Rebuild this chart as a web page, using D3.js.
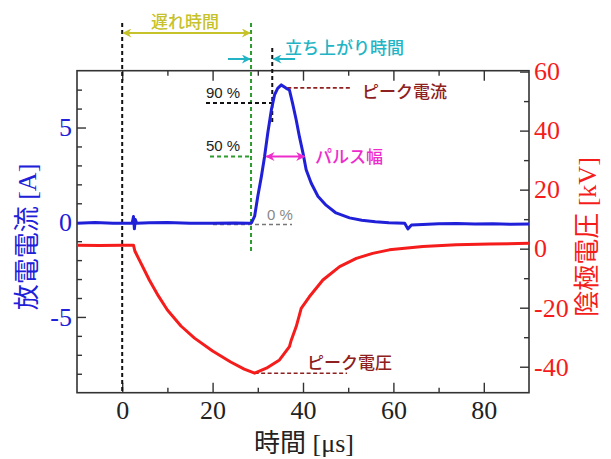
<!DOCTYPE html>
<html>
<head>
<meta charset="utf-8">
<script src="https://cdn.jsdelivr.net/npm/d3@7"></script>
<style>
body { margin: 0; background: #fff; }
svg { display: block; }
</style>
</head>
<body>
<svg id="chart" width="611" height="459"></svg>
<script>
// values
var timeI = [-10, -6, -2, 0, 2.2, 2.5, 2.7, 2.9, 3.2, 6, 10, 15, 20, 25, 28, 28.6, 29.3, 30.0, 30.8, 31.5, 32.2, 33.0, 33.7, 34.4, 35.2, 35.8, 36.3, 37.0, 37.7, 38.5, 39.2, 40.0, 40.7, 41.8, 43.3, 45.1, 47.3, 50.3, 53, 56, 59, 62.5, 63.2, 64, 66.5, 70, 74, 78, 82, 86, 90];
var currentA = [-0.05, -0.02, -0.06, -0.05, -0.05, 0.3, -0.35, 0.15, -0.05, -0.03, -0.02, -0.06, -0.05, -0.04, -0.06, -0.03, 0.32, 1.37, 2.42, 3.47, 4.7, 5.93, 6.72, 7.07, 7.25, 7.15, 7.07, 6.98, 6.28, 5.4, 4.53, 3.65, 2.77, 2.07, 1.37, 0.9, 0.49, 0.23, 0.1, 0.02, -0.03, -0.05, -0.35, -0.15, -0.12, -0.08, -0.07, -0.1, -0.08, -0.11, -0.1];

var timeV = [-10, -5, 0, 2.5, 2.8, 4, 6, 8, 10, 13, 16, 20, 24, 27, 29.3, 31.9, 34.8, 37.0, 37.4, 38.5, 39.2, 39.6, 41.4, 44.4, 48.1, 51.8, 55.4, 59.1, 66.5, 73.9, 81.3, 90];
var voltageKV = [1.2, 1.1, 1.2, 1.2, -0.8, -4.5, -10.6, -16, -20.8, -26.2, -30.3, -34.7, -38.4, -40.8, -42.2, -40.5, -37.7, -33.2, -31.0, -26.4, -22.5, -20.2, -16.3, -10.6, -6.1, -3.3, -1.6, -0.4, 0.7, 1.3, 1.6, 1.8];

var xMajor = [0, 20, 40, 60, 80];
var xMinor = [10, 30, 50, 70];
var leftMajor = [-5, 0, 5];
var leftMinor = [-8, -7, -6, -4, -3, -2, -1, 1, 2, 3, 4, 6, 7];
var rightMajor = [-40, -20, 0, 20, 40, 60];
var rightMinor = [-30, -10, 10, 30, 50];

// annotation readings (time in us, current in A, voltage in kV)
var delayTime = [0, 28.5];
var riseTime = [28.5, 33.2];
var pulseWidth = [31.9, 40.3];
var level90 = 6.3, level50 = 3.47, level0 = -0.12;
var peakCurrent = [35.2, 7.25];
var peakVoltage = [29.3, -42.2];

var svg = d3.select("#chart");
var pLeft = 77, pRight = 529, pTop = 70.7, pBottom = 392.7;

var x = d3.scaleLinear().domain([-10, 90]).range([pLeft, pRight]);
var yL = d3.scaleLinear().domain([-9, 8]).range([pBottom, pTop]);
var yR = d3.scaleLinear().domain([-48.8, 60.3]).range([pBottom, pTop]);

var blue = "#2020d8", red = "#f51c1c";
var serif = "'Liberation Serif', 'Times New Roman', 'Noto Sans CJK JP', serif";
var jp = "'Noto Sans CJK JP', sans-serif";

// arrow heads
var defs = svg.append("defs");
function marker(id, color) {
	defs.append("marker")
		.attr("id", id)
		.attr("viewBox", "0 0 10 10")
		.attr("refX", 9).attr("refY", 5)
		.attr("markerUnits", "userSpaceOnUse")
		.attr("markerWidth", 10).attr("markerHeight", 9)
		.attr("orient", "auto-start-reverse")
		.append("path")
		.attr("d", "M0,0 L10,5 L0,10 L3,5 z")
		.attr("fill", color);
}
marker("arY", "#c6c22a");
marker("arC", "#22b4c4");
marker("arM", "#ee2ccc");

// axes: ticks point inward
function ax(gen, pos, vals, size, fmt, color, pad) {
	var g = svg.append("g")
		.attr("transform", pos)
		.call(gen.tickValues(vals).tickSize(size).tickPadding(pad).tickFormat(fmt));
	g.select(".domain").remove();
	g.selectAll("line").attr("stroke", "#333").attr("stroke-width", 1.4);
	g.selectAll("text").attr("fill", color).style("font-family", serif).style("font-size", "26px");
	return g;
}
var none = function() { return ""; };
var plain = function(d) { return String(d); };  // hyphen minus, like the original
ax(d3.axisBottom(x), "translate(0," + pBottom + ")", xMinor, -5, none, "#222", 8);
ax(d3.axisBottom(x), "translate(0," + pBottom + ")", xMajor, -10, plain, "#222", 8);
ax(d3.axisTop(x), "translate(0," + pTop + ")", xMinor, -5, none, "#222", 8);
ax(d3.axisTop(x), "translate(0," + pTop + ")", xMajor, -10, none, "#222", 8);
ax(d3.axisLeft(yL), "translate(" + pLeft + ",0)", leftMinor, -5, none, blue, 5);
ax(d3.axisLeft(yL), "translate(" + pLeft + ",0)", leftMajor, -9, plain, blue, 5);
ax(d3.axisRight(yR), "translate(" + pRight + ",0)", rightMinor, -5, none, red, 5);
ax(d3.axisRight(yR), "translate(" + pRight + ",0)", rightMajor, -9, plain, red, 5);

svg.append("rect")
	.attr("x", pLeft).attr("y", pTop)
	.attr("width", pRight - pLeft).attr("height", pBottom - pTop)
	.attr("fill", "none").attr("stroke", "#333").attr("stroke-width", 1.6);

// dashed guide lines
function dash(x1, y1, x2, y2, color, w, da) {
	svg.append("line")
		.attr("x1", x1).attr("y1", y1).attr("x2", x2).attr("y2", y2)
		.attr("stroke", color).attr("stroke-width", w)
		.attr("stroke-dasharray", da);
}
dash(x(delayTime[0]), 23, x(delayTime[0]), pBottom, "#111", 2, "4 3");
dash(x(delayTime[1]), 23, x(delayTime[1]), 252, "#2e9b2e", 2, "4 3");
dash(x(riseTime[1]), 48, x(riseTime[1]), 124, "#111", 2, "4 3");
dash(206, yL(level90), x(riseTime[1]), yL(level90), "#111", 2, "4 3");
dash(210, yL(level50), x(delayTime[1]), yL(level50), "#2e9b2e", 2, "4 3");
dash(213, yL(level0), 292, yL(level0), "#777", 1.6, "4 3");
dash(x(peakCurrent[0]) + 6, yL(peakCurrent[1]) + 3, 350, yL(peakCurrent[1]) + 3, "#8e2020", 1.6, "4 2.5");
dash(x(peakVoltage[0]), yR(peakVoltage[1]), 347, yR(peakVoltage[1]), "#8e2020", 1.6, "4 2.5");

// traces
var lineI = d3.line().x(function(d) { return x(d[0]); }).y(function(d) { return yL(d[1]); });
var lineV = d3.line().x(function(d) { return x(d[0]); }).y(function(d) { return yR(d[1]); });

svg.append("path")
	.datum(d3.zip(timeV, voltageKV))
	.attr("d", lineV)
	.attr("fill", "none").attr("stroke", red)
	.attr("stroke-width", 3).attr("stroke-linejoin", "round");
svg.append("path")
	.datum(d3.zip(timeI, currentA))
	.attr("d", lineI)
	.attr("fill", "none").attr("stroke", blue)
	.attr("stroke-width", 3).attr("stroke-linejoin", "round");

// arrows
function arrow(x1, y1, x2, y2, color, id, both) {
	var l = svg.append("line")
		.attr("x1", x1).attr("y1", y1).attr("x2", x2).attr("y2", y2)
		.attr("stroke", color).attr("stroke-width", 2)
		.attr("marker-end", "url(#" + id + ")");
	if (both) l.attr("marker-start", "url(#" + id + ")");
}
arrow(x(delayTime[0]) + 1, 33, x(delayTime[1]) - 1, 33, "#c6c22a", "arY", true);
arrow(228, 59, x(riseTime[0]) - 1, 59, "#22b4c4", "arC", false);
arrow(295, 59, x(riseTime[1]) + 1, 59, "#22b4c4", "arC", false);
arrow(x(pulseWidth[0]), yL(level50), x(pulseWidth[1]), yL(level50), "#ee2ccc", "arM", true);

// labels
function label(txt, px, py, color, size, family, anchor, weight) {
	svg.append("text")
		.attr("x", px).attr("y", py)
		.attr("fill", color)
		.attr("text-anchor", anchor || "start")
		.attr("dominant-baseline", "central")
		.style("font-family", family)
		.style("font-size", size + "px")
		.style("font-weight", weight || 400)
		.text(txt);
}
label("遅れ時間", 185, 20, "#c6c22a", 17, jp, "middle", 500);
label("立ち上がり時間", 285, 46, "#22b4c4", 17, jp, "start", 500);
label("ピーク電流", 362, 90, "#8e2020", 17, jp, "start", 500);
label("パルス幅", 315, 155, "#ee2ccc", 17, jp, "start", 500);
label("ピーク電圧", 307, 361, "#8e2020", 17, jp, "start", 500);
label("90 %", 206, 92, "#222", 15, "'Liberation Sans', Arial, sans-serif");
label("50 %", 206, 145, "#222", 15, "'Liberation Sans', Arial, sans-serif");
label("0 %", 267, 214, "#888", 15, "'Liberation Sans', Arial, sans-serif");

// axis titles
svg.append("text")
	.attr("transform", "translate(27,237) rotate(-90)")
	.attr("text-anchor", "middle").attr("dominant-baseline", "central")
	.attr("fill", blue)
	.style("font-family", serif).style("font-size", "26px")
	.text("放電電流 [A]");
svg.append("text")
	.attr("transform", "translate(587,237) rotate(-90)")
	.attr("text-anchor", "middle").attr("dominant-baseline", "central")
	.attr("fill", red)
	.style("font-family", serif).style("font-size", "26px")
	.text("陰極電圧 [kV]");
svg.append("text")
	.attr("x", 304).attr("y", 443)
	.attr("text-anchor", "middle").attr("dominant-baseline", "central")
	.attr("fill", "#222")
	.style("font-family", serif).style("font-size", "26px")
	.text("時間 [μs]");
</script>
</body>
</html>
